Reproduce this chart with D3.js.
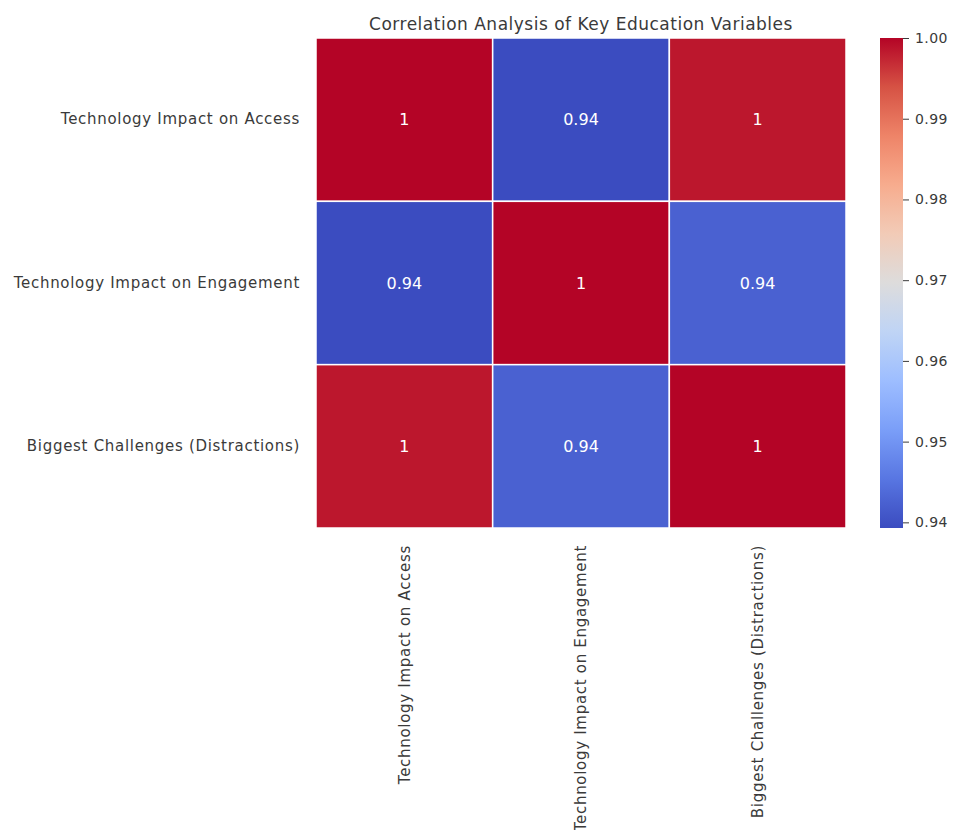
<!DOCTYPE html>
<html>
<head>
<meta charset="utf-8">
<script src="https://cdn.jsdelivr.net/npm/d3@7"></script>
<style>
  body { margin: 0; background: #fff; }
  text { font-family: "DejaVu Sans", sans-serif; }
</style>
</head>
<body>
<script>
// variables and correlation matrix
var variables = ["Technology Impact on Access", "Technology Impact on Engagement", "Biggest Challenges (Distractions)"];
var corrRows = [
  [1.0000, 0.9395, 0.9985],
  [0.9395, 1.0000, 0.9425],
  [0.9985, 0.9425, 1.0000]
];
var cbarTicks = [0.94, 0.95, 0.96, 0.97, 0.98, 0.99, 1.00];
var title = "Correlation Analysis of Key Education Variables";

// coolwarm stops
var coolwarmStops = ["#3b4cc0", "#5977e3", "#7b9ff9", "#9ebeff", "#c0d4f5", "#dddcdc",
                     "#f2cbb7", "#f7ac8e", "#ee8468", "#d65244", "#b40426"];

var width = 956, height = 830;
var margin = {top: 38, left: 316};
var heatW = 530, heatH = 490;

var svg = d3.select("body").append("svg")
  .attr("width", width)
  .attr("height", height);

var cells = [];
corrRows.forEach(function(row, i) {
  row.forEach(function(v, j) {
    cells.push({row: variables[i], col: variables[j], value: v});
  });
});

var vmin = d3.min(cells, d => d.value), vmax = d3.max(cells, d => d.value);

var colorT = d3.scaleLinear().domain([vmin, vmax]).range([0, 1]).clamp(true);
var cw = d3.piecewise(d3.interpolateRgb, coolwarmStops);
var color = function(v) { return cw(colorT(v)); };

var x = d3.scaleBand().domain(variables).range([0, heatW]);
var y = d3.scaleBand().domain(variables).range([0, heatH]);

var g = svg.append("g")
  .attr("transform", "translate(" + margin.left + "," + margin.top + ")");

g.selectAll("rect.cell")
  .data(cells)
  .enter()
  .append("rect")
    .attr("class", "cell")
    .attr("x", d => x(d.col))
    .attr("y", d => y(d.row))
    .attr("width", x.bandwidth())
    .attr("height", y.bandwidth())
    .style("fill", d => color(d.value))
    .style("stroke", "#fff")
    .style("stroke-width", 1.5);

g.selectAll("text.annot")
  .data(cells)
  .enter()
  .append("text")
    .attr("class", "annot")
    .attr("x", d => x(d.col) + x.bandwidth() / 2)
    .attr("y", d => y(d.row) + y.bandwidth() / 2)
    .attr("text-anchor", "middle")
    .attr("dy", "0.35em")
    .style("font-size", "16px")
    .style("fill", "#fff")
    .text(d => d3.format(".2~g")(d.value));

// y axis labels
var yAxis = g.append("g")
  .call(d3.axisLeft(y).tickSize(0).tickPadding(16));
yAxis.select(".domain").remove();
yAxis.selectAll("text")
  .style("font-size", "15px")
  .style("letter-spacing", "0.7px")
  .style("fill", "#3a3a3a");

// x axis labels, rotated
var xAxis = g.append("g")
  .attr("transform", "translate(0," + heatH + ")")
  .call(d3.axisBottom(x).tickSize(0).tickPadding(0));
xAxis.select(".domain").remove();
xAxis.selectAll("text")
  .style("font-size", "15px")
  .style("letter-spacing", "0.7px")
  .style("fill", "#3a3a3a")
  .attr("text-anchor", "end")
  .attr("transform", "rotate(-90)")
  .attr("x", -17)
  .attr("y", 0)
  .attr("dy", "0.35em");

// title
svg.append("text")
  .attr("x", margin.left + heatW / 2)
  .attr("y", 30)
  .attr("text-anchor", "middle")
  .style("font-size", "17px")
  .style("letter-spacing", "0.5px")
  .style("fill", "#3a3a3a")
  .text(title);

// colorbar
var cbX = 880, cbW = 23;
var cbLo = 0.9393, cbHi = 1.0;
var cbScale = d3.scaleLinear().domain([cbLo, cbHi]).range([margin.top + heatH, margin.top]);

var defs = svg.append("defs");
var grad = defs.append("linearGradient")
  .attr("id", "cbgrad")
  .attr("x1", 0).attr("y1", 1).attr("x2", 0).attr("y2", 0);
d3.range(0, 1.0001, 0.05).forEach(function(t) {
  grad.append("stop")
    .attr("offset", t)
    .attr("stop-color", color(cbLo + t * (cbHi - cbLo)));
});

svg.append("rect")
  .attr("x", cbX)
  .attr("y", margin.top)
  .attr("width", cbW)
  .attr("height", heatH)
  .style("fill", "url(#cbgrad)");

var cbAxis = svg.append("g")
  .attr("transform", "translate(" + (cbX + cbW) + ",0)")
  .call(d3.axisRight(cbScale).tickValues(cbarTicks).tickFormat(d3.format(".2f")).tickSize(6).tickPadding(6));
cbAxis.select(".domain").remove();
cbAxis.selectAll("line").style("stroke", "#3a3a3a");
cbAxis.selectAll("text")
  .style("font-size", "14px")
  .style("letter-spacing", "0.4px")
  .style("fill", "#3a3a3a");
</script>
</body>
</html>
